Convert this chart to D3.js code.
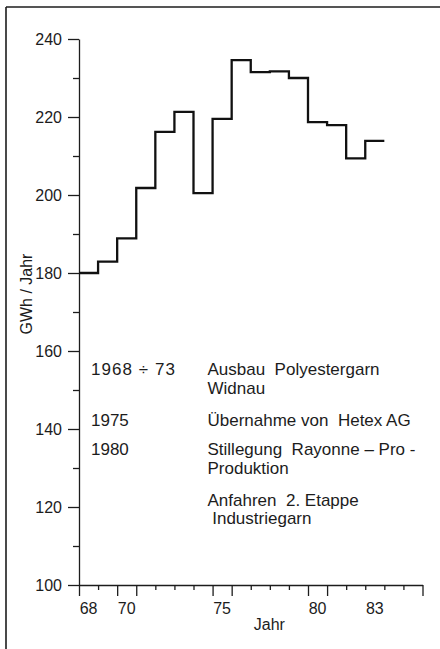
<!DOCTYPE html>
<html>
<head>
<meta charset="utf-8">
<script src="https://cdn.jsdelivr.net/npm/d3@7"></script>
<style>
  html, body { margin: 0; padding: 0; background: #fff; }
  svg { display: block; }
  text { font-family: "Liberation Sans", Arial, sans-serif; fill: #1c1c1c; }
</style>
</head>
<body>
<svg id="chart" width="440" height="649"></svg>
<script>
// ---- data ----
const years = [1968, 1969, 1970, 1971, 1972, 1973, 1974, 1975, 1976, 1977, 1978, 1979, 1980, 1981, 1982, 1983];
const consumption = [180.0, 182.9, 188.9, 201.8, 216.2, 221.3, 200.5, 219.5, 234.6, 231.5, 231.7, 230.0, 218.7, 217.9, 209.4, 213.9];
const yMajorTicks = [100, 120, 140, 160, 180, 200, 220, 240];
const yMinorTicks = [110, 130, 150, 170, 190, 210, 230];
const xTickYears = [1968, 1969, 1970, 1971, 1972, 1973, 1974, 1975, 1976, 1977, 1978, 1979, 1980, 1981, 1982, 1983, 1984, 1985, 1986];
const xLongTickYears = [1968, 1970, 1971, 1975, 1976, 1980, 1981, 1986];
const xLabelYears = [1968, 1970, 1975, 1980, 1983];
const xLabelTexts = ["68", "70", "75", "80", "83"];
const yTitle = "GWh / Jahr";
const xTitle = "Jahr";
const noteYears = ["1968 \u00F7 73", "1975", "1980", ""];
const noteTexts = [
  ["Ausbau  Polyestergarn", "Widnau"],
  ["\u00DCbernahme von  Hetex AG"],
  ["Stillegung  Rayonne \u2013 Pro -", "Produktion"],
  ["Anfahren  2. Etappe", " Industriegarn"]
];

// ---- layout ----
const svg = d3.select("#chart");
const ink = "#1c1c1c";

const x = d3.scaleLinear().domain([1968, 1986]).range([79, 422.5]);
const y = d3.scaleLinear().domain([100, 240]).range([585, 39]);

// frame (top and left edges visible)
svg.append("line").attr("x1", 6).attr("y1", 7).attr("x2", 440).attr("y2", 7)
  .attr("stroke", ink).attr("stroke-width", 1.6);
svg.append("line").attr("x1", 6).attr("y1", 7).attr("x2", 6).attr("y2", 649)
  .attr("stroke", ink).attr("stroke-width", 1.6);

// y axis (major)
const gy = svg.append("g").attr("transform", `translate(${x(1968)},0)`)
  .call(d3.axisLeft(y).tickValues(yMajorTicks).tickSize(11).tickSizeOuter(0).tickPadding(6).tickFormat(d3.format("d")));
gy.selectAll("text").style("font-size", "16px").attr("dy", "0.36em");
// y axis (minor)
const gym = svg.append("g").attr("transform", `translate(${x(1968)},0)`)
  .call(d3.axisLeft(y).tickValues(yMinorTicks).tickSize(6).tickSizeOuter(0).tickFormat(""));
gym.select(".domain").remove();

// x axis (short ticks)
const gx = svg.append("g").attr("transform", `translate(0,${y(100)})`)
  .call(d3.axisBottom(x).tickValues(xTickYears.filter(v => !xLongTickYears.includes(v))).tickSize(5).tickSizeOuter(0).tickFormat(""));
// x axis (long ticks)
const gxl = svg.append("g").attr("transform", `translate(0,${y(100)})`)
  .call(d3.axisBottom(x).tickValues(xLongTickYears).tickSize(11).tickSizeOuter(0).tickFormat(""));
gxl.select(".domain").remove();

[gy, gym, gx, gxl].forEach(g => {
  g.selectAll("path, line").attr("stroke", ink).attr("stroke-width", 1.3);
  g.selectAll("text").attr("fill", ink);
});

// x labels centred in the year intervals
svg.append("g").selectAll("text").data(xLabelYears).join("text")
  .attr("x", d => x(d + 0.5))
  .attr("y", y(100) + 29)
  .attr("text-anchor", "middle")
  .style("font-size", "16px")
  .text((d, i) => xLabelTexts[i]);

// axis titles
svg.append("text")
  .attr("transform", `translate(31.5,${(y(180) + y(160)) / 2 - 18}) rotate(-90)`)
  .attr("text-anchor", "middle")
  .style("font-size", "16px")
  .text(yTitle);
svg.append("text")
  .attr("x", x(1978) - 0.5)
  .attr("y", 630)
  .attr("text-anchor", "middle")
  .style("font-size", "16px")
  .text(xTitle);

// step line
const pts = years.map((yr, i) => ({ yr, v: consumption[i] }));
pts.push({ yr: years[years.length - 1] + 1, v: consumption[consumption.length - 1] });
svg.append("path")
  .datum(pts)
  .attr("fill", "none")
  .attr("stroke", "#111")
  .attr("stroke-width", 2.3)
  .attr("stroke-linejoin", "miter")
  .attr("d", d3.line().x(d => x(d.yr)).y(d => y(d.v)).curve(d3.curveStepAfter));

// notes
const noteBase = [375, 425.5, 455, 505.5];
const lineGap = 18.5;
const notes = svg.append("g").style("font-size", "17px");
noteYears.forEach((t, i) => {
  const yt = notes.append("text").attr("x", 91).attr("y", noteBase[i]).attr("xml:space", "preserve").text(t);
  if (i === 0) yt.attr("textLength", 84).attr("lengthAdjust", "spacing");
  noteTexts[i].forEach((line, j) => {
    notes.append("text")
      .attr("x", 207.5)
      .attr("y", noteBase[i] + j * lineGap)
      .attr("xml:space", "preserve")
      .text(line);
  });
});
</script>
</body>
</html>
